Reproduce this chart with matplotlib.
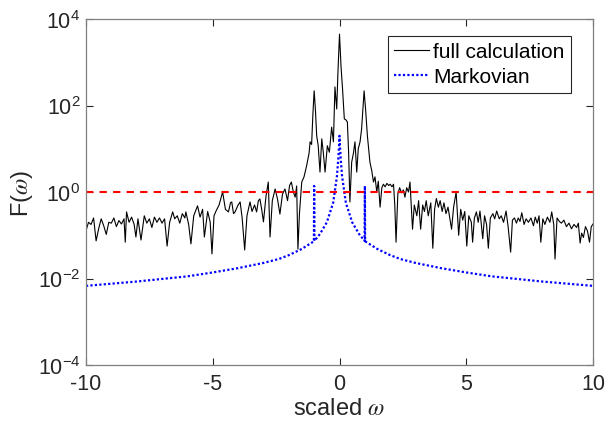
import numpy as np
import matplotlib.pyplot as plt

plt.rcParams['font.family'] = ['Liberation Sans', 'DejaVu Sans']
plt.rcParams['mathtext.fontset'] = 'stix'
plt.rcParams['axes.unicode_minus'] = False

# full calculation (x, log10 F)
x_full = [-10.0, -9.9, -9.8, -9.7, -9.6, -9.5, -9.4, -9.3, -9.2, -9.1, -9.0, -8.9, -8.8, -8.7,
          -8.6, -8.5, -8.45, -8.4, -8.3, -8.2, -8.1, -8.03, -7.95, -7.83, -7.7, -7.6, -7.5,
          -7.4, -7.3, -7.2, -7.1, -7.0, -6.9, -6.8, -6.7, -6.58, -6.5, -6.4, -6.3, -6.2, -6.1,
          -6.06, -5.95, -5.86, -5.75, -5.6, -5.5, -5.4, -5.33, -5.2, -5.1, -5.03, -4.95, -4.87,
          -4.75, -4.61, -4.5, -4.38, -4.3, -4.25, -4.18, -4.12, -4.0, -3.92, -3.84, -3.74,
          -3.65, -3.53, -3.45, -3.35, -3.27, -3.2, -3.14, -3.07, -3.0, -2.9, -2.81, -2.74,
          -2.65, -2.54, -2.45, -2.35, -2.25, -2.15, -2.05, -1.97, -1.9, -1.82, -1.75, -1.69,
          -1.64, -1.58, -1.49, -1.4, -1.3, -1.2, -1.16, -1.1, -1.05, -1.0, -0.95, -0.9, -0.84,
          -0.77, -0.7, -0.64, -0.57, -0.48, -0.4, -0.31, -0.24, -0.18, -0.11, -0.06, 0.0,
          0.06, 0.12, 0.19, 0.25, 0.31, 0.36, 0.41, 0.48, 0.55, 0.61, 0.68, 0.74, 0.81, 0.87,
          0.92, 0.97, 1.03, 1.1, 1.2, 1.27, 1.34, 1.4, 1.47, 1.53, 1.6, 1.67, 1.73, 1.8, 1.87,
          1.94, 2.0, 2.07, 2.13, 2.18, 2.23, 2.3, 2.37, 2.45, 2.52, 2.58, 2.65, 2.72, 2.78,
          2.88, 2.95, 3.05, 3.12, 3.2, 3.28, 3.35, 3.42, 3.5, 3.6, 3.68, 3.75, 3.82, 3.9, 3.97,
          4.05, 4.12, 4.2, 4.28, 4.35, 4.42, 4.5, 4.6, 4.7, 4.78, 4.86, 4.94, 5.02, 5.1, 5.2,
          5.25, 5.32, 5.4, 5.47, 5.54, 5.65, 5.72, 5.8, 5.87, 5.95, 6.05, 6.12, 6.2, 6.3, 6.38,
          6.47, 6.57, 6.65, 6.75, 6.82, 6.9, 6.98, 7.05, 7.12, 7.19, 7.28, 7.36, 7.45, 7.55,
          7.65, 7.72, 7.8, 7.87, 7.94, 8.02, 8.1, 8.2, 8.3, 8.37, 8.45, 8.5, 8.58, 8.67, 8.75,
          8.85, 8.95, 9.05, 9.15, 9.25, 9.35, 9.42, 9.49, 9.55, 9.62, 9.7, 9.78, 9.86, 9.93, 10.0]
logF_full = [-0.90, -0.70, -0.75, -0.60, -1.13, -0.85, -0.62, -0.78, -0.98, -0.70, -0.72, -0.60,
             -0.80, -0.66, -0.74, -0.62, -1.16, -0.46, -0.70, -0.58, -0.75, -1.04, -0.62, -1.11,
             -0.55, -0.72, -0.62, -0.82, -0.58, -0.70, -0.60, -0.72, -0.62, -1.25, -0.70, -0.46,
             -0.62, -0.55, -0.72, -0.50, -0.60, -0.46, -0.75, -1.20, -0.55, -0.32, -0.58, -0.40,
             -1.04, -0.45, -0.70, -1.43, -0.55, -0.44,
             -0.30, 0.0, -0.40, -0.46, -0.25, -0.23, -0.50, -0.46, -0.30, -0.23, -0.60, -1.34,
             -0.55, -0.23, -0.45, -0.30, -0.46, -0.20, -0.16, -0.40, -0.69, -0.10, 0.23, -1.04,
             -0.20, 0.07, -0.15, -0.51, -0.05, 0.07, -0.20, 0.15, 0.23, 0.0, -0.12, 0.14,
             -1.32, -0.50, 0.23, 0.35, 0.60, 0.90, 1.16, 1.10, 1.80, 2.34, 1.90, 1.30, 1.07,
             0.46, 1.23, 0.92, 0.46, 1.07, 0.92, 1.50, 1.16, 2.43, 1.92, 2.80, 3.65,
             2.90, 2.38, 1.69, 1.67, 1.62, 0.90, -0.23, 0.69, 0.90, 1.16, 0.46, 1.00, 1.16, 1.45,
             1.90, 2.34, 1.90, 1.30, 0.69, 0.50, 0.23, 0.35, 0.0, 0.25, -0.35, 0.10, 0.18, 0.12,
             0.20, 0.15, 0.18, 0.12, 0.18, -0.30, -1.16, -0.05, 0.10, -0.02, 0.05, -0.12, 0.10,
             0.0, 0.23, -0.86, -0.30, -0.55, -0.20, -0.86, -0.30, -0.45, -0.20, -0.55, -0.25,
             -1.30, -0.40, -0.15, -0.35, -0.20, -0.45, -0.25, -0.50, -0.35, -0.60, -0.86, -0.35,
             0.0, -1.00, -0.40, -0.65, -0.45, -1.25, -0.55, -0.70, -1.16, -0.60, -0.46, -0.70,
             -0.44, -1.08, -0.55, -0.75, -1.30, -0.60, -0.50, -0.62, -0.44, -0.62, -0.55, -0.70,
             -0.44, -0.80, -1.39, -0.65, -0.60, -0.72, -0.60, -0.68, -0.48, -0.75, -0.62, -0.70,
             -0.60, -0.78, -0.58, -0.72, -0.55, -1.16, -0.62, -0.75, -0.58, -0.70, -0.46, -0.75,
             -1.55, -0.60, -0.68, -0.72, -0.65, -0.80, -0.72, -0.85, -0.75, -0.82, -0.72, -1.18,
             -0.95, -1.05, -0.80, -0.90, -1.16, -0.80, -0.74]

# Markovian curve (x, log10 F)
x_markov = [-10.0, -8.0, -6.0, -5.0, -4.0, -3.0, -2.4, -2.0, -1.5, -1.01, -1.0, -0.99,
            -0.77, -0.5, -0.25, -0.1, -0.05, -0.02, 0.0, 0.02, 0.05, 0.1, 0.25, 0.5, 0.77,
            0.99, 1.0, 1.01, 1.5, 2.0, 2.4, 3.0, 4.0, 5.0, 6.0, 8.0, 10.0]
logF_markov = [-2.17, -2.07, -1.95, -1.86, -1.76, -1.64, -1.55, -1.46, -1.32, -1.14, 0.14, -1.13,
               -0.97, -0.70, -0.25, 0.37, 0.75, 1.05, 1.30, 1.05, 0.75, 0.37, -0.25, -0.70, -0.97,
               -1.13, 0.14, -1.14, -1.32, -1.46, -1.55, -1.64, -1.76, -1.86, -1.95, -2.07, -2.17]

threshold = 1.0
xticks = [-10, -5, 0, 5, 10]
yticks = [1e-4, 1e-2, 1e0, 1e2, 1e4]

fig = plt.figure(figsize=(6.08, 4.35), dpi=100)
ax = fig.add_axes([0.1414, 0.1586, 0.834, 0.7954])

ax.plot(x_full, 10 ** np.array(logF_full), color='k', lw=0.8, label='full calculation')
ax.plot(x_markov, 10 ** np.array(logF_markov), color='b', lw=1.6, ls=(0, (1, 1)),
        label='Markovian')
ax.axhline(threshold, color='r', lw=1.5, ls=(0, (3.5, 3)))

ax.set_yscale('log')
ax.set_xlim(-10, 10)
ax.set_ylim(1e-4, 1e4)
ax.set_xticks(xticks)
ax.set_yticks(yticks)
ax.minorticks_off()
ax.tick_params(direction='in', top=True, right=True, length=5, labelsize=15.5,
               colors='#262626', width=0.8)
ax.tick_params(axis='x', pad=6)
ax.tick_params(axis='y', pad=4)
for s in ax.spines.values():
    s.set_color('#808080')
    s.set_linewidth(0.9)

ax.set_xlabel(r'scaled $\omega$', fontsize=17, color='#262626', labelpad=2)
ax.set_ylabel(r'F($\omega$)', fontsize=17, color='#262626', labelpad=2)

leg = ax.legend(loc='upper right', bbox_to_anchor=(0.9566, 0.9509), borderaxespad=0,
                fontsize=15, fancybox=False, framealpha=1, handlelength=1.7,
                handletextpad=0.2, borderpad=0.3, labelspacing=0.3)
leg.get_frame().set_edgecolor('#262626')
leg.get_frame().set_linewidth(0.8)

fig.savefig('out.png', dpi=100)
